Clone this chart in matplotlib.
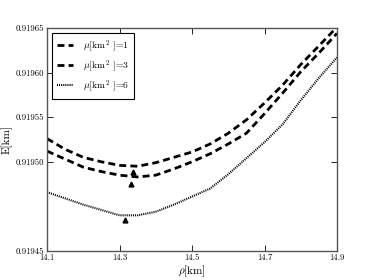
import matplotlib
matplotlib.use("Agg")
import matplotlib.pyplot as plt

plt.rcParams['font.family'] = ['cmr10', 'DejaVu Serif']
plt.rcParams['mathtext.fontset'] = 'cm'
plt.rcParams['axes.formatter.use_mathtext'] = True

# radius grid [km]
rho = [14.10, 14.15, 14.20, 14.25, 14.30, 14.35, 14.40, 14.45, 14.50,
       14.55, 14.60, 14.65, 14.70, 14.75, 14.80, 14.85, 14.90]

# energy for each mu
E_mu1 = [0.919526, 0.919514, 0.919505, 0.919500, 0.919496, 0.919495, 0.919499,
         0.919505, 0.919511, 0.919520, 0.919532, 0.919547, 0.919566, 0.919586,
         0.919609, 0.919630, 0.919651]
E_mu3 = [0.919512, 0.919503, 0.919494, 0.919489, 0.919485, 0.919483, 0.919485,
         0.919492, 0.919500, 0.919509, 0.919520, 0.919532, 0.919554, 0.919577,
         0.919601, 0.919622, 0.919644]
E_mu6 = [0.919466, 0.919459, 0.919452, 0.919446, 0.919440, 0.919440, 0.919444,
         0.919452, 0.919461, 0.919470, 0.919486, 0.919504, 0.919522, 0.919542,
         0.919569, 0.919594, 0.919617]

# minima markers
min_rho = [14.337, 14.332, 14.315]
min_E = [0.919489, 0.919475, 0.919435]

labels = [r'$\mu$[km$^2$ ]=1', r'$\mu$[km$^2$ ]=3', r'$\mu$[km$^2$ ]=6']

x_ticks = [14.1, 14.3, 14.5, 14.7, 14.9]
y_ticks = [0.91940, 0.91950, 0.91955, 0.91960, 0.91965]
y_tick_labels = ['0.91945', '0.91950', '0.91955', '0.91960', '0.91965']

fig = plt.figure(figsize=(3.74, 2.8), dpi=100)
ax = fig.add_axes([0.1257, 0.1036, 0.7754, 0.7964])

ax.plot(rho, E_mu1, color='black', linestyle=(0, (2.5, 1.5)), linewidth=2.0, label=labels[0])
ax.plot(rho, E_mu3, color='black', linestyle=(0, (2.5, 1.5)), linewidth=2.0, label=labels[1])
ax.plot(rho, E_mu6, color='black', linestyle=(0, (0.5, 0.5)), linewidth=1.5, label=labels[2])
ax.plot(min_rho, min_E, linestyle='none', marker='^', color='black', markersize=3.5)

ax.set_xlim(14.1, 14.9)
ax.set_ylim(0.91940, 0.91965)
ax.set_xticks(x_ticks)
ax.set_xticklabels([f'{t:.1f}' for t in x_ticks])
ax.set_yticks(y_ticks)
ax.set_yticklabels(y_tick_labels)
ax.tick_params(direction='in', top=True, right=True, labelsize=6.3, length=4, width=0.6, pad=2)
for s in ax.spines.values():
    s.set_color('#555555')
    s.set_linewidth(1.0)

ax.set_xlabel(r'$\rho$[km]', fontsize=8, labelpad=1)
ax.set_ylabel('E[km]', fontsize=8, labelpad=2)

leg = ax.legend(loc='upper left', fontsize=7, handlelength=1.7, fancybox=False,
                framealpha=1, edgecolor='black', borderpad=0.5, labelspacing=0.45,
                handletextpad=1.0)
leg.get_frame().set_linewidth(0.8)

fig.savefig('out.png', dpi=100)
